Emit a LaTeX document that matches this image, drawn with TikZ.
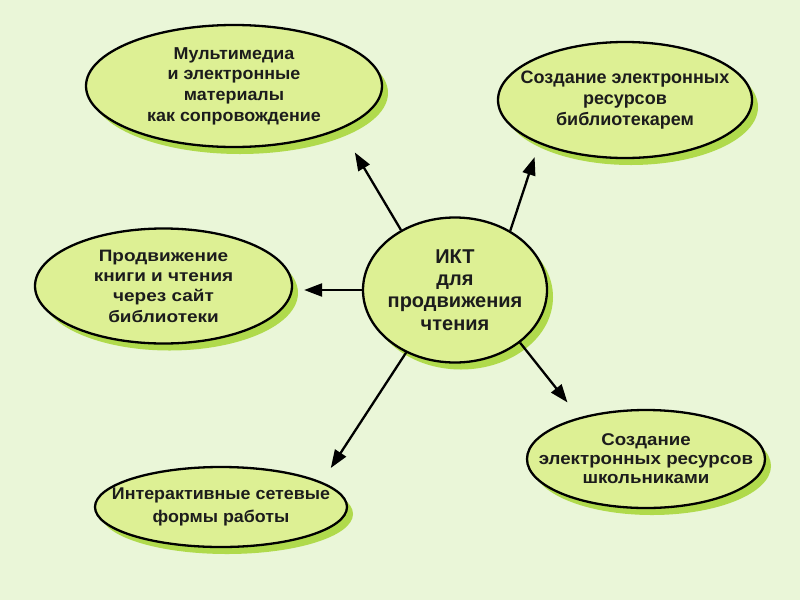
\documentclass[tikz,border=0pt]{standalone}
\usepackage{fontspec}
\setmainfont{Liberation Sans}
\usetikzlibrary{shapes.geometric,shadows,arrows.meta}
\definecolor{bgc}{HTML}{EAF6D8}
\definecolor{fillc}{HTML}{DDF094}
\definecolor{shadc}{HTML}{B0DA4C}
\definecolor{txtc}{HTML}{1C1C1C}
\begin{document}
\begin{tikzpicture}[x=1pt,y=-1pt,
  bub/.style={ellipse, draw=black, line width=2.3pt, fill=fillc, inner ysep=0pt, inner xsep=-40pt,
    align=center, text=txtc,
    drop shadow={shadow xshift=6pt, shadow yshift=-7pt, fill=shadc, opacity=1}},
  fs/.style n args={3}{font=\fontsize{#1}{#2}\selectfont\bfseries\addfontfeatures{FakeStretch=#3}},
  arr/.style={line width=2.3pt, -{Triangle[length=18pt,width=13pt]}}]
\fill[bgc] (0,0) rectangle (800,600);
\useasboundingbox (0,0) rectangle (800,600);

\node[bub, fs={17.2}{20.7}{1.04}, minimum width=296pt, minimum height=122pt] (tl) at (234,86)
  {Мультимедиа\\и электронные\\материалы\\как сопровождение};
\node[bub, fs={18}{20.7}{1.0}, minimum width=254pt, minimum height=116pt] (tr) at (625,100)
  {Создание электронных\\ресурсов\\библиотекарем};
\node[bub, fs={16.5}{20.3}{1.15}, minimum width=257pt, minimum height=115pt] (lft) at (163.5,286)
  {Продвижение\\книги и чтения\\через сайт\\библиотеки};
\node[bub, fs={20}{22.3}{1.0}, minimum width=184pt, minimum height=145pt] (c) at (455,290)
  {ИКТ\\для\\продвижения\\чтения};
\node[bub, fs={17}{19}{1.1}, minimum width=238pt, minimum height=98pt] (br) at (646,459)
  {Создание\\электронных ресурсов\\школьниками};
\node[bub, fs={17}{23}{1.05}, minimum width=252pt, minimum height=80pt] (bl) at (221,507)
  {Интерактивные сетевые\\формы работы};

\draw[arr, shorten >=27pt] (c.132) -- (tl.-22.6);
\draw[arr, shorten >=14pt] (c.47) -- (tr.207.7);
\draw[arr, shorten >=11pt] (c.west) -- (c.west -| lft.east);
\draw[arr, shorten >=19pt] (c.-39) -- (br.148.3);
\draw[arr, shorten >=16.6pt] (c.232) -- (bl.14.5);
\end{tikzpicture}
\end{document}
